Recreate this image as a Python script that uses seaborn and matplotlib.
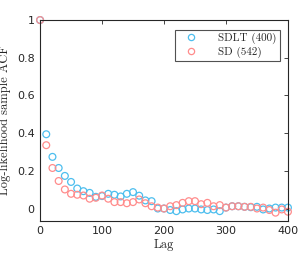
import numpy as np
import pandas as pd
import seaborn as sns
import matplotlib.pyplot as plt
from matplotlib.lines import Line2D

lags = list(range(0, 401, 10))
sdlt = [1.0, 0.394, 0.274, 0.215, 0.173, 0.141, 0.106, 0.092, 0.083, 0.062,
        0.066, 0.078, 0.073, 0.064, 0.078, 0.087, 0.068, 0.043, 0.039, 0.0,
        0.0, -0.008, -0.014, -0.005, 0.0, 0.0, -0.005, -0.008, -0.005, -0.014,
        0.005, 0.012, 0.012, 0.009, 0.007, 0.009, -0.005, 0.0, 0.005, 0.005, 0.005]
sd = [1.0, 0.336, 0.215, 0.146, 0.101, 0.078, 0.073, 0.069, 0.052, 0.057,
      0.069, 0.052, 0.034, 0.034, 0.028, 0.034, 0.048, 0.028, 0.012, 0.005,
      0.0, 0.012, 0.018, 0.030, 0.039, 0.039, 0.023, 0.030, 0.012, 0.018,
      0.005, 0.012, 0.012, 0.009, 0.009, 0.0, 0.005, -0.008, -0.022, -0.005, -0.017]
labels = ["SDLT (400)", "SD (542)"]
colors = ["#4DBEEE", "#FF8C8C"]

df = pd.DataFrame({
    "Lag": lags * 2,
    "ACF": sdlt + sd,
    "Series": [labels[0]] * len(lags) + [labels[1]] * len(lags),
})

sns.set_style("white")
fig = plt.figure(figsize=(2.99, 2.57), dpi=100)
ax = fig.add_axes([0.134, 0.141, 0.829, 0.781])

sns.scatterplot(data=df, x="Lag", y="ACF", hue="Series", palette=colors,
                hue_order=labels, ax=ax, s=24, marker="o", clip_on=False,
                legend=False)
for coll in ax.collections:
    fc = coll.get_facecolors()
    coll.set_edgecolors(fc)
    coll.set_facecolors("none")
    coll.set_linewidth(0.9)
    coll.set_clip_on(False)

ax.set_xlim(0, 400)
ax.set_ylim(-0.065, 1.0)
ax.set_xticks([0, 100, 200, 300, 400])
ax.set_yticks([0, 0.2, 0.4, 0.6, 0.8, 1.0])
ax.set_yticklabels(["0", "0.2", "0.4", "0.6", "0.8", "1"])
ax.tick_params(direction="in", length=3, width=0.6, top=True, right=True,
               labelsize=8, colors="#262626", labelcolor="#262626", pad=4)
for sp in ax.spines.values():
    sp.set_linewidth(0.8)
    sp.set_color("#262626")

ax.set_xlabel("Lag", family="cmr10", fontsize=9, labelpad=2)
ax.set_ylabel("Log-likelihood sample ACF", family="cmr10", fontsize=9, labelpad=4)

handles = [Line2D([], [], marker="o", linestyle="none", markerfacecolor="none",
                  markeredgecolor=c, markersize=4.5, markeredgewidth=0.9) for c in colors]
leg = ax.legend(handles, labels, loc="upper right", bbox_to_anchor=(0.968, 0.951),
                borderaxespad=0.0,
                prop={"family": "cmr10", "size": 8}, frameon=True, fancybox=False,
                edgecolor="#262626", handletextpad=1.3, borderpad=0.3,
                labelspacing=0.2, handlelength=2.3)
leg.get_frame().set_linewidth(0.8)

fig.savefig("out.png", dpi=100)
